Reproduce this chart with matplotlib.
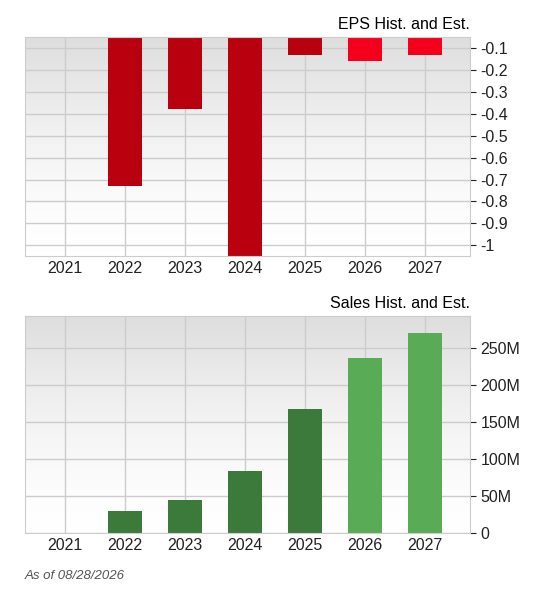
import matplotlib.pyplot as plt
import numpy as np

plt.rcParams['font.family'] = ['Liberation Sans', 'DejaVu Sans']

years = ['2021', '2022', '2023', '2024', '2025', '2026', '2027']
eps = [0, -0.73, -0.38, -1.05, -0.13, -0.16, -0.13]
eps_colors = ['#b8000e'] * 5 + ['#f5001c'] * 2
sales = [0, 30, 45, 84, 168, 236, 270]  # millions
sales_colors = ['#3c7a3b'] * 5 + ['#5aab55'] * 2

fig = plt.figure(figsize=(5.43, 6), dpi=100)
ax1 = fig.add_axes([0.046, 0.573, 0.82, 0.365])
ax2 = fig.add_axes([0.046, 0.112, 0.82, 0.361])

grad = np.linspace(0, 1, 100).reshape(-1, 1) ** 1.5
xlim = (-0.667, 6.75)


def style(ax, ylim, title):
    ax.imshow(grad, extent=[xlim[0], xlim[1], ylim[0], ylim[1]], aspect='auto',
              cmap=plt.matplotlib.colors.LinearSegmentedColormap.from_list('g', ['#ffffff', '#dedede']),
              origin='lower', zorder=0)
    ax.set_xlim(*xlim)
    ax.set_ylim(*ylim)
    ax.yaxis.tick_right()
    ax.grid(True, color='#cccccc', lw=1, zorder=1)
    ax.set_axisbelow(True)
    for s in ax.spines.values():
        s.set_color('#cccccc')
    ax.tick_params(colors='#222222', labelsize=11.5, length=4)
    ax.tick_params(axis='x', length=0)
    ax.set_title(title, loc='right', fontsize=11.5, pad=6)


x = np.arange(len(years))
ax1.bar(x, eps, width=0.57, color=eps_colors, zorder=2)
style(ax1, (-1.05, -0.05), 'EPS Hist. and Est.')
ax1.set_yticks(np.arange(-1.0, -0.05, 0.1))
ax1.set_yticklabels(['-1', '-0.9', '-0.8', '-0.7', '-0.6', '-0.5', '-0.4', '-0.3', '-0.2', '-0.1'])
ax1.set_xticks(x, years)

ax2.bar(x, sales, width=0.57, color=sales_colors, zorder=2)
style(ax2, (0, 293), 'Sales Hist. and Est.')
ax2.set_yticks([0, 50, 100, 150, 200, 250])
ax2.set_yticklabels(['0', '50M', '100M', '150M', '200M', '250M'])
ax2.set_xticks(x, years)

fig.text(0.046, 0.035, 'As of 08/28/2026', fontsize=9.5, style='italic', color='#555555')
fig.savefig('out.png')
